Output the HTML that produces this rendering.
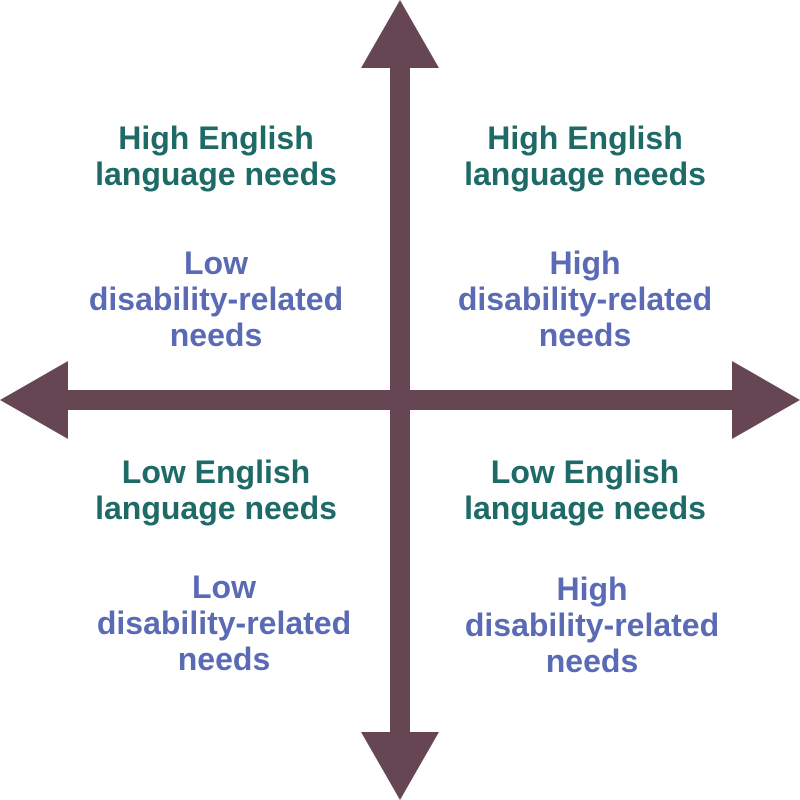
<!DOCTYPE html>
<html><head><meta charset="utf-8"><style>
html,body{margin:0;padding:0;background:#fff;}
.w{position:relative;width:800px;height:800px;overflow:hidden;font-family:"Liberation Sans",sans-serif;}
svg{position:absolute;left:0;top:0;}
.t{position:absolute;width:340px;text-align:center;font-size:32px;line-height:36px;font-weight:bold;letter-spacing:0px;}
.g{color:#1d6a66;}
.b{color:#5b6ab5;}
</style></head><body><div class="w">
<svg width="800" height="800">
<g fill="#664653">
<rect x="390" y="60" width="20" height="680"/>
<rect x="60" y="390" width="680" height="20"/>
<polygon points="400,0 439,68 361,68"/>
<polygon points="400,800 439,732 361,732"/>
<polygon points="0,400 68,361 68,439"/>
<polygon points="800,400 732,361 732,439"/>
</g>
</svg>
<div class="t g" style="left:46px;top:120px">High English<br>language needs</div>
<div class="t b" style="left:46px;top:245px">Low<br>disability-related<br>needs</div>
<div class="t g" style="left:415px;top:120px">High English<br>language needs</div>
<div class="t b" style="left:415px;top:245px">High<br>disability-related<br>needs</div>
<div class="t g" style="left:46px;top:454px">Low English<br>language needs</div>
<div class="t b" style="left:54px;top:569px">Low<br>disability-related<br>needs</div>
<div class="t g" style="left:415px;top:454px">Low English<br>language needs</div>
<div class="t b" style="left:422px;top:571px">High<br>disability-related<br>needs</div>
</div></body></html>
